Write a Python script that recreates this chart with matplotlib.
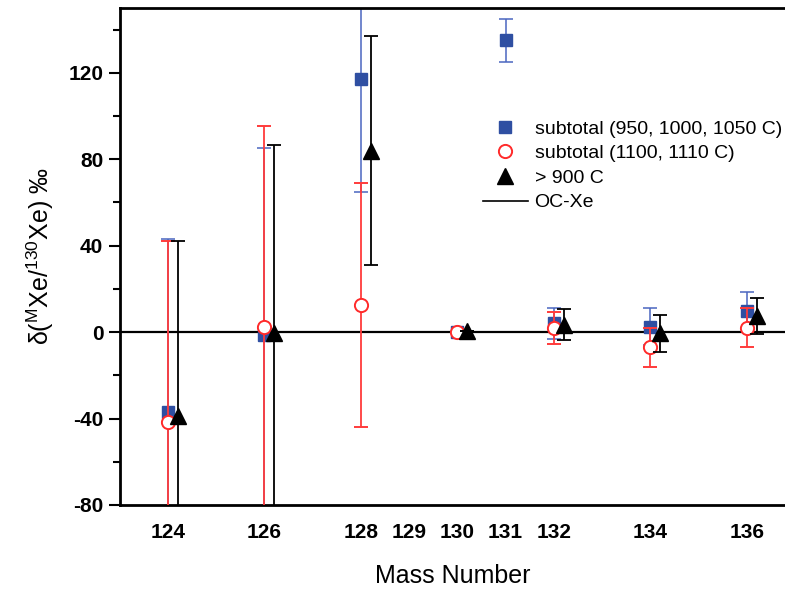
import numpy as np
import matplotlib
matplotlib.use('Agg')
import matplotlib.pyplot as plt
from matplotlib.lines import Line2D

plt.rcParams['font.family'] = ['Liberation Sans', 'DejaVu Sans']
plt.rcParams['mathtext.fontset'] = 'custom'
plt.rcParams['mathtext.rm'] = 'Liberation Sans'

# mass numbers and delta values (permil)
mass = [124, 126, 128, 130, 131, 132, 134, 136]

blue_val = [-37, -1.5, 117, 0, 135, 4, 2.5, 10]
blue_err = [80, 86.5, 52, 0, 10, 7, 8.5, 8.5]

red_val = [-41.5, 2.3, 12.6, 0, np.nan, 2, -7, 2]
red_err = [83.5, 93, 56.5, 0, np.nan, 7.5, 9, 9]

black_val = [-39, -0.5, 84, 0.5, np.nan, 3.5, -0.5, 7.5]
black_err = [81, 87, 53, 0, np.nan, 7, 8.5, 8.5]

tick_mass = [124, 126, 128, 129, 130, 131, 132, 134, 136]

fig = plt.figure(figsize=(7.85, 5.92), dpi=100)
ax = fig.add_axes([120 / 785, 1 - 505 / 592, 665 / 785, 497 / 592])

m = np.array(mass, dtype=float)

ax.axhline(0, color='black', lw=1.6, zorder=1)

ax.errorbar(m, blue_val, yerr=blue_err, fmt='s', color='#2f4fa2', ecolor='#4a66c0',
            ms=8.5, elinewidth=1.1, capsize=5, capthick=1.1, zorder=2)
ax.errorbar(m, red_val, yerr=red_err, fmt='o', mfc='white', mec='#ff2a2a', color='#ff2a2a',
            ecolor='#ff3b3b', ms=9.5, mew=1.4, elinewidth=1.3, capsize=5, capthick=1.3, zorder=3)
ax.errorbar(m + 0.2, black_val, yerr=black_err, fmt='^', color='black', ecolor='black',
            ms=11, elinewidth=1.3, capsize=5, capthick=1.3, zorder=4)

ax.set_xlim(123.005, 136.79)
ax.set_ylim(-80, 150)

ax.set_xticks(tick_mass)
ax.set_xticklabels([str(t) for t in tick_mass], fontsize=15, fontweight='bold')
ax.tick_params(axis='x', length=0, pad=13)

ax.set_yticks([-80, -40, 0, 40, 80, 120])
ax.set_yticks([-60, -20, 20, 60, 100, 140], minor=True)
ax.set_yticklabels(['-80', '-40', '0', '40', '80', '120'], fontsize=15, fontweight='bold')
ax.tick_params(axis='y', which='major', direction='out', length=8, width=1.5, pad=4)
ax.tick_params(axis='y', which='minor', direction='out', length=5, width=1.5)

for s in ['left', 'top', 'bottom']:
    ax.spines[s].set_linewidth(2)
ax.spines['right'].set_visible(False)

ax.set_xlabel('Mass Number', fontsize=18, labelpad=16)
ax.set_ylabel(r'$\mathregular{\delta(^{M}Xe/^{130}Xe)}$ ‰', fontsize=18, labelpad=9)

handles = [
    Line2D([], [], ls='none', marker='s', color='#2f4fa2', ms=8.5),
    Line2D([], [], ls='none', marker='o', mfc='white', mec='#ff2a2a', ms=9.5, mew=1.4),
    Line2D([], [], ls='none', marker='^', color='black', ms=11),
    Line2D([], [], color='black', lw=1.2),
]
labels = ['subtotal (950, 1000, 1050 C)', 'subtotal (1100, 1110 C)', '> 900 C', 'OC-Xe']
ax.legend(handles, labels, loc='upper left', bbox_to_anchor=((483 - 120) / 665, 1 - (120 - 8) / 497),
          frameon=False, fontsize=14, handlelength=2.3, handletextpad=0.35,
          labelspacing=0.36, borderaxespad=0, borderpad=0)

fig.savefig('out.png', dpi=100)
